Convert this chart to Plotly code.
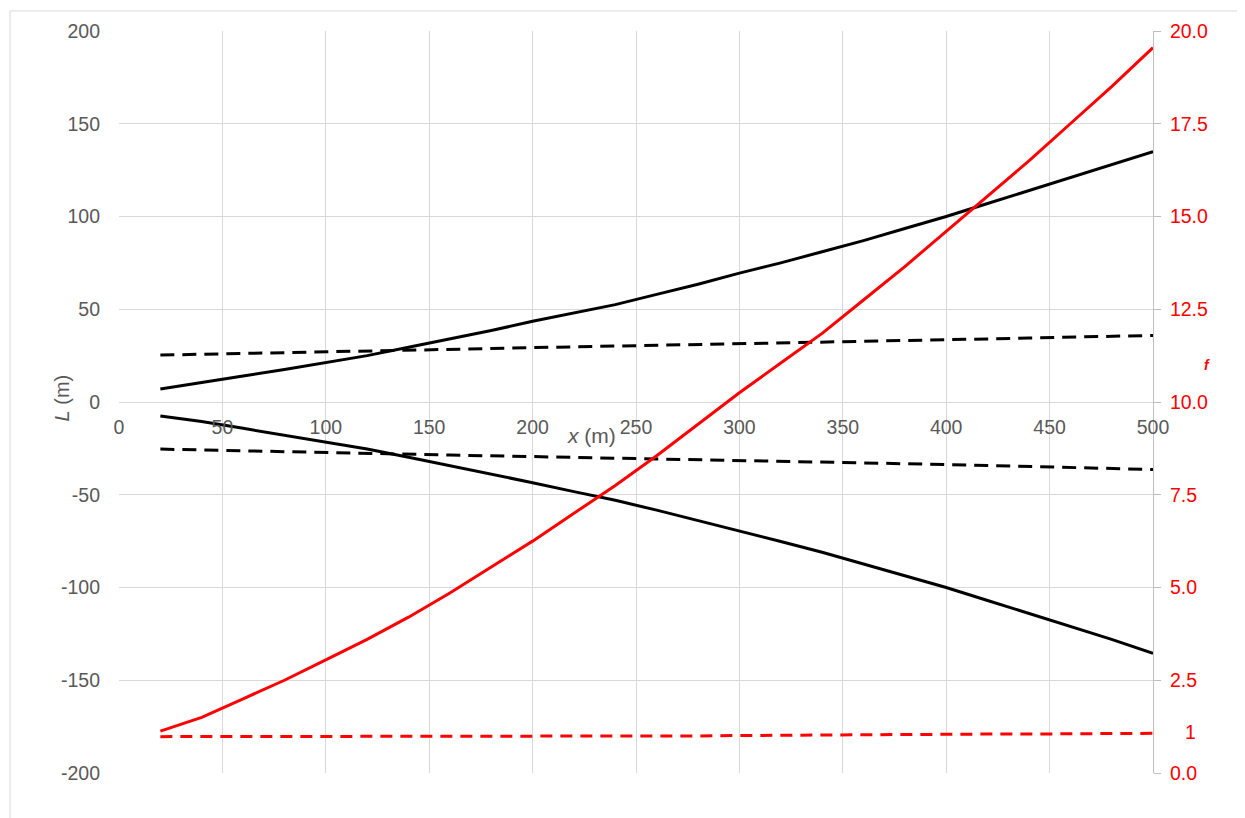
import plotly.graph_objects as go

# Distance along x (m)
x_m = [20, 40, 60, 80, 100, 120, 140, 160, 180, 200, 220, 240, 260,
       280, 300, 320, 340, 360, 380, 400, 420, 440, 460, 480, 500]

# L (m) - solid black envelope (upper / lower)
L_upper = [7.0, 10.3, 14.0, 17.5, 21.3, 25.0, 29.5, 34.0, 38.5, 43.5, 48.0, 52.5, 58.0,
           63.5, 69.5, 75.0, 81.0, 87.0, 93.5, 100.0, 107.0, 114.0, 121.0, 128.0, 135.0]
L_lower = [-7.5, -10.5, -14.2, -17.8, -21.5, -25.3, -29.8, -34.3, -38.8, -43.5, -48.3, -53.0, -58.3,
           -63.8, -69.5, -75.2, -81.0, -87.2, -93.5, -100.0, -107.0, -114.0, -121.2, -128.0, -135.5]

# L (m) - dashed black envelope (upper / lower)
Ld_upper = [25.3, 25.7, 26.1, 26.5, 27.0, 27.4, 27.9, 28.4, 28.8, 29.3, 29.7, 30.2, 30.6,
            31.0, 31.4, 31.8, 32.2, 32.6, 33.1, 33.5, 34.0, 34.5, 35.0, 35.4, 35.9]
Ld_lower = [-25.4, -25.8, -26.2, -26.6, -27.1, -27.5, -28.0, -28.6, -29.0, -29.4, -29.8, -30.3, -30.7,
            -31.1, -31.5, -31.9, -32.4, -32.8, -33.2, -33.7, -34.2, -34.7, -35.2, -35.8, -36.4]

# f (right axis)
f_solid = [1.13, 1.50, 2.00, 2.50, 3.05, 3.60, 4.20, 4.85, 5.55, 6.25, 7.00, 7.75, 8.55,
           9.40, 10.25, 11.05, 11.85, 12.75, 13.65, 14.60, 15.55, 16.50, 17.50, 18.50, 19.55]
f_dashed = [0.98, 0.98, 0.98, 0.98, 0.98, 0.98, 0.99, 0.99, 0.99, 0.99, 0.99, 1.00, 1.00,
            1.00, 1.01, 1.02, 1.02, 1.03, 1.04, 1.04, 1.05, 1.05, 1.06, 1.06, 1.07]

# Axis ticks
x_ticks = [0, 50, 100, 150, 200, 250, 300, 350, 400, 450, 500]
L_ticks = [-200, -150, -100, -50, 0, 50, 100, 150, 200]
L_ticktext = ["-200", "-150", "-100", "-50", "0", "50", "100", "150", "200"]
f_ticks = [0.0, 2.5, 5.0, 7.5, 10.0, 12.5, 15.0, 17.5, 20.0]
f_ticktext = ["0.0", "2.5", "5.0", "7.5", "10.0", "12.5", "15.0", "17.5", "20.0"]
f_extra_text = "1"
f_extra_val = 1.0

GREY_TXT = "#595959"
GRID = "#d9d9d9"
RED = "#ff0000"
FONT = "Liberation Sans, Arial, sans-serif"
FS = 19.5

fig = go.Figure()

for ys in (L_upper, L_lower):
    fig.add_trace(go.Scatter(x=x_m, y=ys, mode="lines",
                             line=dict(color="black", width=3), showlegend=False))
for ys in (Ld_upper, Ld_lower):
    fig.add_trace(go.Scatter(x=x_m, y=ys, mode="lines",
                             line=dict(color="black", width=3, dash="14px,8px"), showlegend=False))

fig.add_trace(go.Scatter(x=x_m, y=f_solid, mode="lines", yaxis="y2",
                         line=dict(color=RED, width=3), showlegend=False))
fig.add_trace(go.Scatter(x=x_m, y=f_dashed, mode="lines", yaxis="y2",
                         line=dict(color=RED, width=3, dash="12px,8px"), showlegend=False))

fig.update_layout(
    width=1237, height=810,
    margin=dict(l=111, r=92, t=23, b=45),
    paper_bgcolor="white", plot_bgcolor="white",
    font=dict(family=FONT, size=FS, color=GREY_TXT),
    xaxis=dict(range=[0, 500], tickvals=x_ticks, showgrid=True, gridcolor=GRID, gridwidth=1,
               zeroline=False, showline=False, anchor="free", position=0.5,
               ticks="", ticklabelstandoff=11,
               tickfont=dict(size=FS, color=GREY_TXT, family=FONT)),
    yaxis=dict(range=[-200, 200], tickvals=L_ticks, ticktext=L_ticktext,
               showgrid=True, gridcolor=GRID, gridwidth=1,
               zeroline=False, showline=False, ticks="", ticklabelstandoff=18,
               tickfont=dict(size=FS, color=GREY_TXT, family=FONT)),
    yaxis2=dict(range=[0, 20], overlaying="y", side="right", tickvals=f_ticks, ticktext=f_ticktext,
                showgrid=False, zeroline=False, showline=True, linecolor="#bfbfbf", linewidth=1,
                ticks="outside", ticklen=7, tickcolor="#bfbfbf", ticklabelstandoff=5,
                tickfont=dict(size=FS, color=RED, family=FONT)),
    shapes=[dict(type="rect", xref="paper", yref="paper",
                 x0=-0.1054, x1=1.2, y0=-0.2, y1=1.027,
                 line=dict(color="#d9d9d9", width=1), fillcolor="rgba(0,0,0,0)", layer="below")],
)

fig.add_annotation(x=1.0358, y=f_extra_val, xref="paper", yref="y2",
                   text=f_extra_text, showarrow=False, xanchor="center", yanchor="middle",
                   font=dict(size=FS, color=RED, family=FONT), yshift=4)
fig.add_annotation(x=0.457, y=0.5, xref="paper", yref="paper", text="<i>x</i> (m)",
                   showarrow=False, xanchor="center", yanchor="middle", yshift=-33,
                   font=dict(size=21, color=GREY_TXT, family=FONT))
fig.add_annotation(x=-0.055, y=0.505, xref="paper", yref="paper", text="<i>L</i> (m)",
                   showarrow=False, textangle=-90, xanchor="center", yanchor="middle",
                   font=dict(size=20, color=GREY_TXT, family=FONT))
fig.add_annotation(x=1.0522, y=0.55, xref="paper", yref="paper", text="<b><i>f</i></b>",
                   showarrow=False, xanchor="center", yanchor="middle",
                   font=dict(size=14, color=RED, family=FONT))

fig.write_html("out.html")
